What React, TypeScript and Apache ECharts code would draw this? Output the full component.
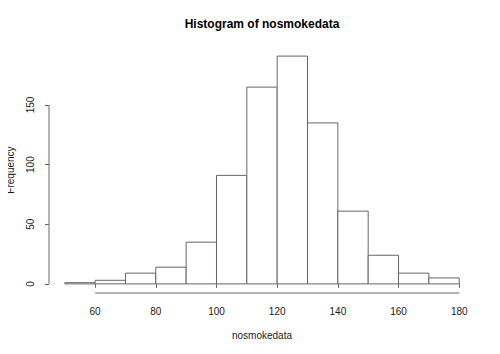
import React, { useEffect, useRef } from "react";
import * as echarts from "echarts";

const binStarts = [50, 60, 70, 80, 90, 100, 110, 120, 130, 140, 150, 160, 170];
const binWidth = 10;
const counts = [1, 3, 9, 14, 35, 91, 165, 191, 135, 61, 24, 9, 5];
const xTicks = [60, 80, 100, 120, 140, 160, 180];
const yTicks = [0, 50, 100, 150];
const titleText = "Histogram of nosmokedata";
const xLabel = "nosmokedata";
const yLabel = "Frequency";

const FONT = "'Liberation Sans', Arial, Helvetica, sans-serif";
const LINE = "#666";
const TEXT = "#1a1a1a";

export default function App() {
  const ref = useRef<HTMLDivElement>(null);
  useEffect(() => {
    if (!ref.current) return;
    const chart = echarts.init(ref.current, undefined, { renderer: "svg" });
    const xLo = binStarts[0];
    const xHi = binStarts[binStarts.length - 1] + binWidth;
    const xPad = (xHi - xLo) * 0.04;
    const yHi = Math.max(...counts);
    const yPad = yHi * 0.04;
    const yMin = -yPad;
    const xMin = xLo - xPad;
    const data = binStarts.map((s, i) => [s, s + binWidth, counts[i]]);
    chart.setOption({
      animation: false,
      backgroundColor: "#fff",
      title: {
        text: titleText,
        left: 262,
        top: 18,
        padding: 0,
        textAlign: "center",
        textStyle: { fontFamily: FONT, fontSize: 12, fontWeight: "bold", color: "#000" },
      },
      grid: { left: 49, right: 25, top: 47, bottom: 61, containLabel: false, outerBoundsMode: "none" },
      xAxis: {
        type: "value",
        min: xMin,
        max: xHi + xPad,
        name: xLabel,
        nameLocation: "middle",
        nameGap: 37,
        nameTextStyle: { fontFamily: FONT, fontSize: 10, color: TEXT },
        axisLine: { show: false },
        splitLine: { show: false },
        axisTick: { show: true, customValues: xTicks, length: 4, lineStyle: { color: LINE } },
        axisLabel: { customValues: xTicks, margin: 13, fontFamily: FONT, fontSize: 10, color: TEXT },
      },
      yAxis: {
        type: "value",
        min: yMin,
        max: yHi + yPad,
        name: yLabel,
        nameLocation: "middle",
        nameGap: 34,
        nameRotate: 90,
        nameTextStyle: { fontFamily: FONT, fontSize: 10, color: TEXT },
        axisLine: { show: false },
        splitLine: { show: false },
        axisTick: { show: true, customValues: yTicks, length: 4, lineStyle: { color: LINE } },
        axisLabel: {
          customValues: yTicks,
          rotate: 90,
          margin: 14,
          align: "center",
          verticalAlign: "bottom",
          fontFamily: FONT,
          fontSize: 10,
          color: TEXT,
        },
      },
      series: [
        {
          type: "custom",
          data,
          renderItem: (params: any, api: any) => {
            const p0 = api.coord([api.value(0), 0]);
            const p1 = api.coord([api.value(1), api.value(2)]);
            return {
              type: "rect",
              shape: { x: p0[0], y: p1[1], width: p1[0] - p0[0], height: p0[1] - p1[1] },
              style: { fill: "#fff", stroke: LINE, lineWidth: 1 },
            };
          },
        },
        {
          type: "custom",
          data: [[0]],
          silent: true,
          renderItem: (params: any, api: any) => {
            const a = api.coord([xTicks[0], yMin]);
            const b = api.coord([xTicks[xTicks.length - 1], yMin]);
            const c = api.coord([xMin, yTicks[0]]);
            const d = api.coord([xMin, yTicks[yTicks.length - 1]]);
            return {
              type: "group",
              children: [
                { type: "line", shape: { x1: a[0], y1: a[1], x2: b[0], y2: b[1] }, style: { stroke: LINE, lineWidth: 1 } },
                { type: "line", shape: { x1: c[0], y1: c[1], x2: d[0], y2: d[1] }, style: { stroke: LINE, lineWidth: 1 } },
              ],
            };
          },
        },
      ],
    });
    return () => chart.dispose();
  }, []);
  return <div ref={ref} style={{ width: 500, height: 354, margin: -8 }} />;
}
